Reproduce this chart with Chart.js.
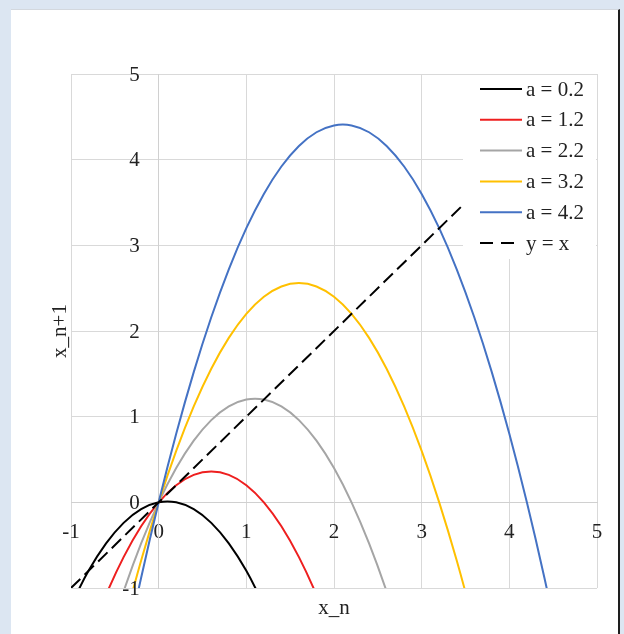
<!DOCTYPE html>
<html>
<head>
<meta charset="utf-8">
<script src="https://cdn.jsdelivr.net/npm/chart.js@4.4.1/dist/chart.umd.min.js"></script>
<style>
    html, body { margin: 0; padding: 0; }
    body { width: 624px; height: 634px; background: #dce6f2; position: relative; overflow: hidden; }
    .card { position: absolute; left: 11px; top: 9px; width: 607px; height: 640px; background: #fff;
            border-top: 1px solid #d3d8de; border-right: 2px solid #1e1e1e; }
    #wrap { position: absolute; left: 0; top: 0; width: 624px; height: 634px; }
</style>
</head>
<body>
<div class="card"></div>
<div id="wrap"><canvas id="myChart"></canvas></div>
<script>
// x_n values shared by the curves
const xs = [-1, -0.8, -0.6, -0.4, -0.2, 0, 0.2, 0.4, 0.6, 0.8, 1, 1.2, 1.4, 1.6, 1.8, 2,
            2.2, 2.4, 2.6, 2.8, 3, 3.2, 3.4, 3.6, 3.8, 4, 4.2, 4.4, 4.6, 4.8, 5]

// x_n+1 for each a (null = off the plot)
const a02 = [-1.2, -0.8, -0.48, -0.24, -0.08, 0, 0, -0.08, -0.24, -0.48, -0.8, -1.2, null, null, null, null,
             null, null, null, null, null, null, null, null, null, null, null, null, null, null, null]
const a12 = [null, -1.6, -1.08, -0.64, -0.28, 0, 0.2, 0.32, 0.36, 0.32, 0.2, 0, -0.28, -0.64, -1.08, -1.6,
             null, null, null, null, null, null, null, null, null, null, null, null, null, null, null]
const a22 = [null, null, -1.68, -1.04, -0.48, 0, 0.4, 0.72, 0.96, 1.12, 1.2, 1.2, 1.12, 0.96, 0.72, 0.4,
             0, -0.48, -1.04, -1.68, null, null, null, null, null, null, null, null, null, null, null]
const a32 = [null, null, -2.28, -1.44, -0.68, 0, 0.6, 1.12, 1.56, 1.92, 2.2, 2.4, 2.52, 2.56, 2.52, 2.4,
             2.2, 1.92, 1.56, 1.12, 0.6, 0, -0.68, -1.44, -2.28, null, null, null, null, null, null]
const a42 = [null, null, null, -1.84, -0.88, 0, 0.8, 1.52, 2.16, 2.72, 3.2, 3.6, 3.92, 4.16, 4.32, 4.4,
             4.4, 4.32, 4.16, 3.92, 3.6, 3.2, 2.72, 2.16, 1.52, 0.8, 0, -0.88, -1.84, null, null]

// y = x reference line
const lineX = [-1, 3.5]
const lineY = [-1, 3.5]

const labels = ['a = 0.2', 'a = 1.2', 'a = 2.2', 'a = 3.2', 'a = 4.2', 'y = x']
const colors = ['#000000', '#ee1f1f', '#a5a5a5', '#ffc000', '#4472c4', '#000000']

const serif = "'Liberation Serif', 'Times New Roman', serif"
const fontSize = 21

function toPoints(xv, yv) {
    const pts = []
    xv.forEach((x, i) => {
        if (yv[i] !== null) pts.push({ x: x, y: yv[i] })
    })
    return pts
}

const series = [a02, a12, a22, a32, a42]
const datasets = series.map((ys, i) => ({
    label: labels[i],
    data: toPoints(xs, ys),
    borderColor: colors[i],
    borderWidth: 2,
    pointRadius: 0,
    showLine: true,
    tension: 0.4,
    clip: 0,
    order: 6 - i
}))
datasets.push({
    label: labels[5],
    data: toPoints(lineX, lineY),
    borderColor: colors[5],
    borderWidth: 2,
    borderDash: [13, 6],
    pointRadius: 0,
    showLine: true,
    clip: 0,
    order: 0
})

// legend box in the top right corner of the plot
const boxLegend = {
    id: 'boxLegend',
    afterDraw(chart) {
        const c = chart.ctx
        const area = chart.chartArea
        const left = area.right - 134
        c.save()
        c.fillStyle = '#fff'
        c.fillRect(left, area.top + 1, area.right - left - 1, 184)
        c.font = fontSize + 'px ' + serif
        c.textBaseline = 'middle'
        chart.data.datasets.forEach((ds, i) => {
            const y = area.top + 15 + i * 30.8
            c.beginPath()
            c.strokeStyle = ds.borderColor
            c.lineWidth = 2
            c.setLineDash(ds.borderDash ? [13, 8] : [])
            c.moveTo(left + 17, y)
            c.lineTo(left + 59, y)
            c.stroke()
            c.fillStyle = '#222'
            c.fillText(ds.label, left + 63, y + 1)
        })
        c.restore()
    }
}

// y tick labels sit left of the x = 0 axis; axis titles
const axisText = {
    id: 'axisText',
    afterDraw(chart) {
        const c = chart.ctx
        const area = chart.chartArea
        const sx = chart.scales.x
        const sy = chart.scales.y
        c.save()
        c.fillStyle = '#222'
        c.font = fontSize + 'px ' + serif
        c.textAlign = 'right'
        c.textBaseline = 'middle'
        const x0 = sx.getPixelForValue(0)
        sy.ticks.forEach(t => {
            c.fillText(String(t.value), x0 - 19, sy.getPixelForValue(t.value) + 1)
        })
        c.textAlign = 'center'
        c.fillText('x_n', (area.left + area.right) / 2, area.bottom + 20)
        c.translate(area.left - 11, (area.top + area.bottom) / 2)
        c.rotate(-Math.PI / 2)
        c.fillText('x_n+1', 0, 0)
        c.restore()
    }
}

const ctx = document.getElementById('myChart').getContext('2d')
new Chart(ctx, {
    type: 'scatter',
    data: { datasets: datasets },
    options: {
        responsive: true,
        maintainAspectRatio: false,
        animation: false,
        layout: { padding: { left: 71, top: 74, right: 27, bottom: 46 } },
        scales: {
            x: {
                type: 'linear',
                min: -1,
                max: 5,
                position: { y: 0 },
                ticks: { stepSize: 1, color: '#222', font: { family: serif, size: fontSize }, padding: 18 },
                grid: { color: '#d9d9d9', drawTicks: false },
                border: { color: '#d0d0d0' }
            },
            y: {
                type: 'linear',
                min: -1,
                max: 5,
                position: { x: 0 },
                ticks: { stepSize: 1, display: false },
                grid: { color: '#d9d9d9', drawTicks: false },
                border: { color: '#d0d0d0' }
            }
        },
        plugins: {
            legend: { display: false },
            tooltip: { enabled: false }
        }
    },
    plugins: [boxLegend, axisText]
})
</script>
</body>
</html>
